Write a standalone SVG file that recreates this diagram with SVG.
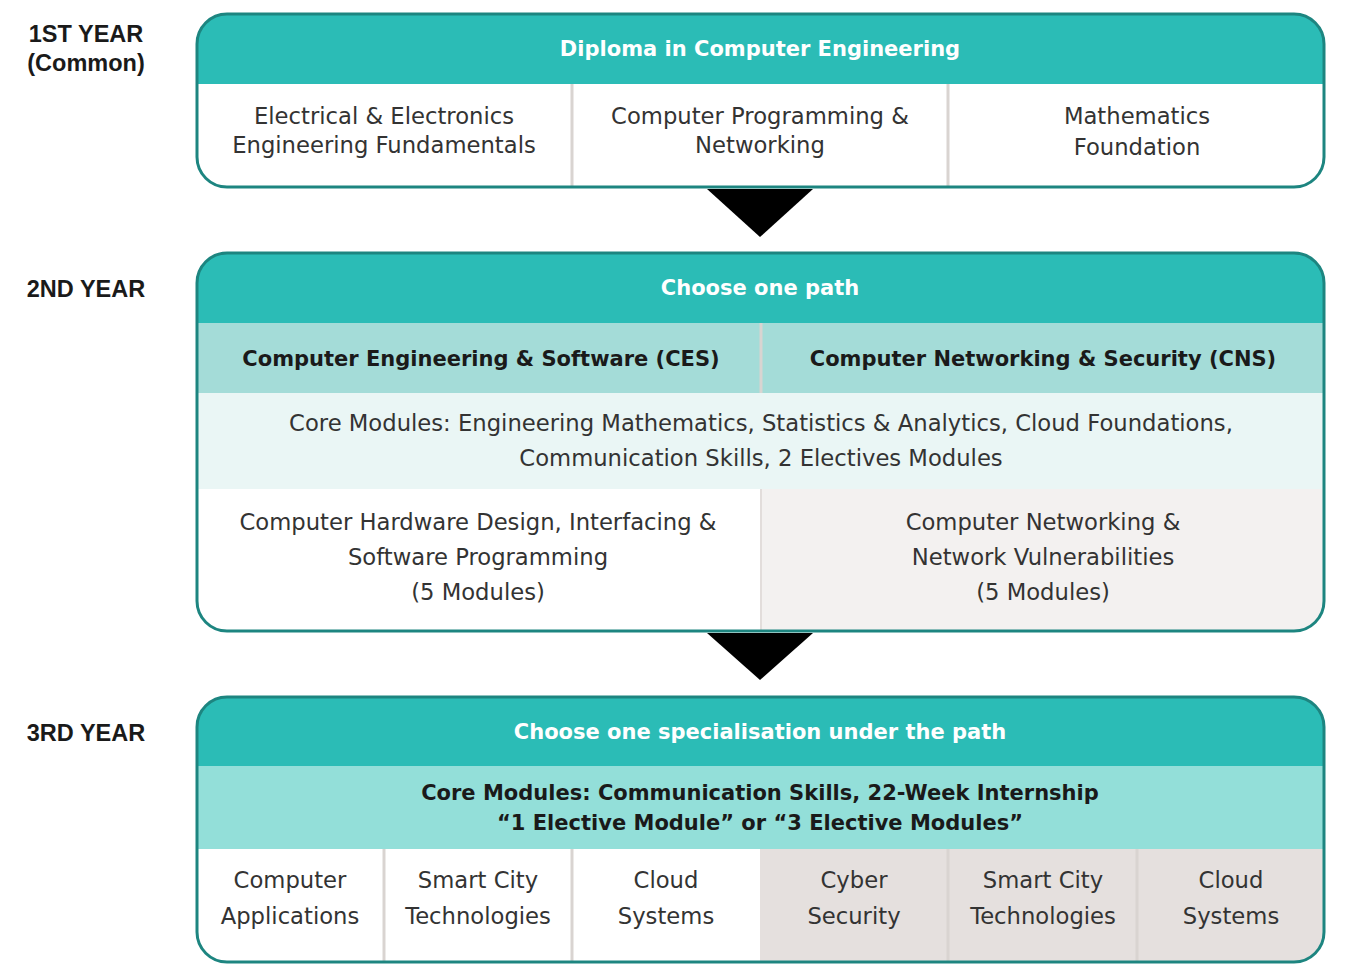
<svg xmlns="http://www.w3.org/2000/svg" width="1357" height="972" viewBox="0 0 1357 972">
<style>
.yr{font-family:"Liberation Sans",Arial,sans-serif;font-weight:bold;font-size:23.5px;fill:#1a1a1a;text-anchor:middle}
.hd{font-family:"DejaVu Sans",sans-serif;font-weight:bold;font-size:21px;fill:#ffffff;text-anchor:middle}
.sb{font-family:"DejaVu Sans",sans-serif;font-weight:bold;font-size:21px;fill:#1a1a1a;text-anchor:middle}
.tx{font-family:"DejaVu Sans",sans-serif;font-size:22.7px;fill:#333333;text-anchor:middle}
.frame{fill:none;stroke:#1d8580;stroke-width:3}
.div{stroke:#d9d4d1;stroke-width:3}
.teal{fill:#2bbcb6}
</style>
<defs>
<clipPath id="c1"><rect x="197" y="14" width="1127" height="173" rx="30"/></clipPath>
<clipPath id="c2"><rect x="197" y="253" width="1127" height="378" rx="30"/></clipPath>
<clipPath id="c3"><rect x="197" y="697" width="1127" height="265" rx="30"/></clipPath>
</defs>
<rect width="1357" height="972" fill="#ffffff"/>

<g id="labels">
<text class="yr" x="86" y="42">1ST YEAR</text>
<text class="yr" x="86" y="71">(Common)</text>
<text class="yr" x="86" y="297">2ND YEAR</text>
<text class="yr" x="86" y="741">3RD YEAR</text>
</g>

<g id="connectors">
<polygon points="707,189 813,189 760,237" fill="#000000"/>
<polygon points="707,633 813,633 760,680" fill="#000000"/>
</g>

<g id="year1">
<g clip-path="url(#c1)">
<rect x="197" y="14" width="1127" height="173" fill="#ffffff"/>
<rect class="teal" x="197" y="14" width="1127" height="70"/>
<line class="div" x1="572" y1="84" x2="572" y2="187"/>
<line class="div" x1="948" y1="84" x2="948" y2="187"/>
</g>
<rect class="frame" x="197" y="14" width="1127" height="173" rx="30"/>
<text class="hd" x="760" y="56">Diploma in Computer Engineering</text>
<text class="tx" x="384" y="124">Electrical &amp; Electronics</text>
<text class="tx" x="384" y="153">Engineering Fundamentals</text>
<text class="tx" x="760" y="124">Computer Programming &amp;</text>
<text class="tx" x="760" y="153">Networking</text>
<text class="tx" x="1137" y="124">Mathematics</text>
<text class="tx" x="1137" y="155">Foundation</text>
</g>

<g id="year2">
<g clip-path="url(#c2)">
<rect x="197" y="253" width="1127" height="378" fill="#ffffff"/>
<rect class="teal" x="197" y="253" width="1127" height="70"/>
<rect x="197" y="323" width="1127" height="70" fill="#a4dcd8"/>
<rect x="197" y="393" width="1127" height="96" fill="#eaf6f5"/>
<rect x="761" y="489" width="563" height="142" fill="#f3f1f0"/>
<line class="div" x1="761" y1="323" x2="761" y2="393"/>
<line x1="761" y1="489" x2="761" y2="631" stroke="#e2dddb" stroke-width="2"/>
</g>
<rect class="frame" x="197" y="253" width="1127" height="378" rx="30"/>
<text class="hd" x="760" y="295">Choose one path</text>
<text class="sb" x="481" y="366">Computer Engineering &amp; Software (CES)</text>
<text class="sb" x="1043" y="366">Computer Networking &amp; Security (CNS)</text>
<text class="tx" x="761" y="431">Core Modules: Engineering Mathematics, Statistics &amp; Analytics, Cloud Foundations,</text>
<text class="tx" x="761" y="466">Communication Skills, 2 Electives Modules</text>
<text class="tx" x="478" y="530">Computer Hardware Design, Interfacing &amp;</text>
<text class="tx" x="478" y="565">Software Programming</text>
<text class="tx" x="478" y="600">(5 Modules)</text>
<text class="tx" x="1043" y="530">Computer Networking &amp;</text>
<text class="tx" x="1043" y="565">Network Vulnerabilities</text>
<text class="tx" x="1043" y="600">(5 Modules)</text>
</g>

<g id="year3">
<g clip-path="url(#c3)">
<rect x="197" y="697" width="1127" height="265" fill="#ffffff"/>
<rect class="teal" x="197" y="697" width="1127" height="69"/>
<rect x="197" y="766" width="1127" height="83" fill="#93dfd9"/>
<rect x="760" y="849" width="564" height="113" fill="#e5e0de"/>
<line class="div" x1="384" y1="849" x2="384" y2="962"/>
<line class="div" x1="572" y1="849" x2="572" y2="962"/>
<line class="div" x1="948" y1="849" x2="948" y2="962"/>
<line class="div" x1="1137" y1="849" x2="1137" y2="962"/>
</g>
<rect class="frame" x="197" y="697" width="1127" height="265" rx="30"/>
<text class="hd" x="760" y="739">Choose one specialisation under the path</text>
<text class="sb" x="760" y="800">Core Modules: Communication Skills, 22-Week Internship</text>
<text class="sb" x="760" y="830">“1 Elective Module” or “3 Elective Modules”</text>
<text class="tx" x="290" y="888">Computer</text>
<text class="tx" x="290" y="924">Applications</text>
<text class="tx" x="478" y="888">Smart City</text>
<text class="tx" x="478" y="924">Technologies</text>
<text class="tx" x="666" y="888">Cloud</text>
<text class="tx" x="666" y="924">Systems</text>
<text class="tx" x="854" y="888">Cyber</text>
<text class="tx" x="854" y="924">Security</text>
<text class="tx" x="1043" y="888">Smart City</text>
<text class="tx" x="1043" y="924">Technologies</text>
<text class="tx" x="1231" y="888">Cloud</text>
<text class="tx" x="1231" y="924">Systems</text>
</g>
</svg>
